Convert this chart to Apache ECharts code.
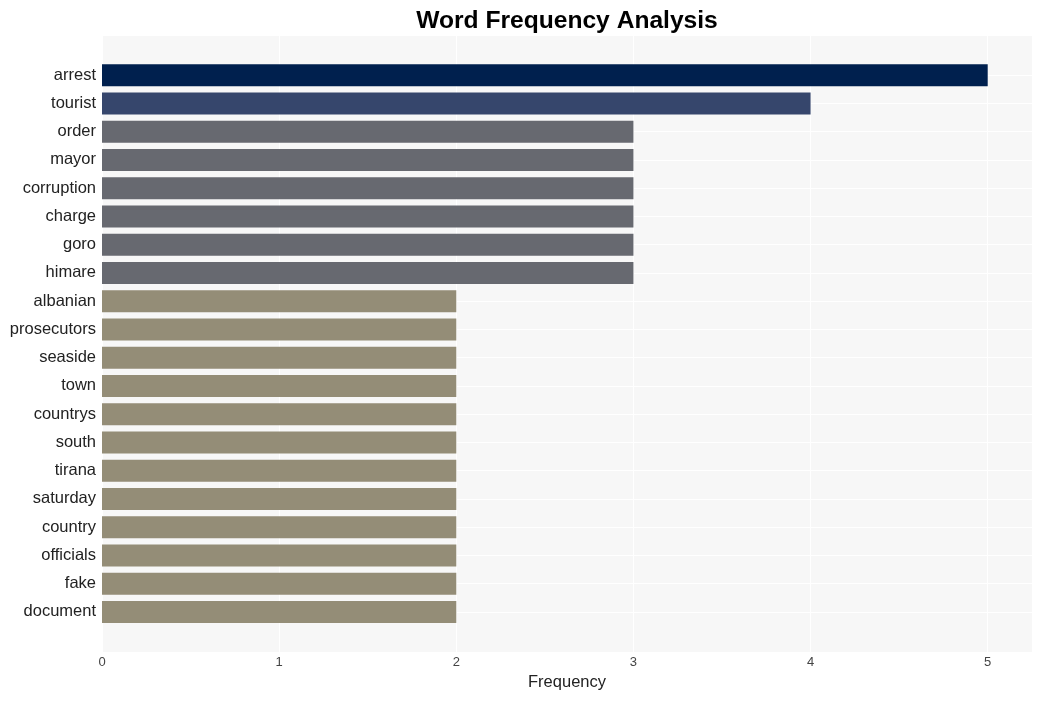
<!DOCTYPE html>
<html>
<head>
<meta charset="utf-8">
<script src="https://cdn.jsdelivr.net/npm/echarts@6/dist/echarts.min.js"></script>
<style>html,body{margin:0;padding:0;background:#fff;}#c{width:1041px;height:701px;}</style>
</head>
<body>
<div id="c"></div>
<script>
const categories = ["arrest","tourist","order","mayor","corruption","charge","goro","himare","albanian","prosecutors","seaside","town","countrys","south","tirana","saturday","country","officials","fake","document"];
const frequencies = [5,4,3,3,3,3,3,3,2,2,2,2,2,2,2,2,2,2,2,2];
const colorByValue = {5:"#00204e", 4:"#36466c", 3:"#676970", 2:"#948d77"};
const xTicks = [0,1,2,3,4,5];

const chart = echarts.init(document.getElementById('c'), null, {renderer:'canvas'});
const font = "Liberation Sans, Arial, Helvetica, sans-serif";
chart.setOption({
  animation: false,
  backgroundColor: '#ffffff',
  title: {
    text: 'Word Frequency Analysis', left: 562, textAlign: 'center', top: 4,
    textStyle: {fontFamily: font, fontSize: 24.6, fontWeight: 'bold', color: '#000'}
  },
  grid: [
    {left: 102, right: 9, top: 36, bottom: 49, show: true, backgroundColor: '#f7f7f7', borderWidth: 0, containLabel: false},
    {left: 102, right: 9, top: 61, bottom: 75, containLabel: false}
  ],
  xAxis: [
    {type: 'value', gridIndex: 0, min: 0, max: 5.25, interval: 1,
     axisLine: {show: false}, axisTick: {show: false},
     axisLabel: {fontFamily: font, fontSize: 13, color: '#444', margin: 4,
       formatter: v => xTicks.includes(v) ? String(v) : ''},
     splitLine: {show: true, lineStyle: {color: '#ffffff', width: 1}},
     name: 'Frequency', nameLocation: 'middle', nameGap: 17,
     nameTextStyle: {fontFamily: font, fontSize: 16.5, color: '#222'}},
    {type: 'value', gridIndex: 1, min: 0, max: 5.25, show: false}
  ],
  yAxis: [
    {type: 'value', gridIndex: 0, show: false, min: 0, max: 1},
    {type: 'category', gridIndex: 1, data: categories, inverse: true,
     axisLine: {show: false}, axisTick: {show: false}, splitLine: {show: false},
     axisLabel: {fontFamily: font, fontSize: 16.5, color: '#222', margin: 6, padding: [3, 0, 0, 0]}}
  ],
  series: [{
    type: 'bar', xAxisIndex: 1, yAxisIndex: 1,
    data: frequencies.map(v => ({value: v, itemStyle: {color: colorByValue[v]}})),
    barWidth: 22,
    markLine: {
      silent: true, symbol: 'none', label: {show: false}, z: 1,
      lineStyle: {color: '#ffffff', width: 1, type: 'solid'},
      data: categories.map(c => ({yAxis: c}))
    },
    z: 3
  }]
});
</script>
</body>
</html>
